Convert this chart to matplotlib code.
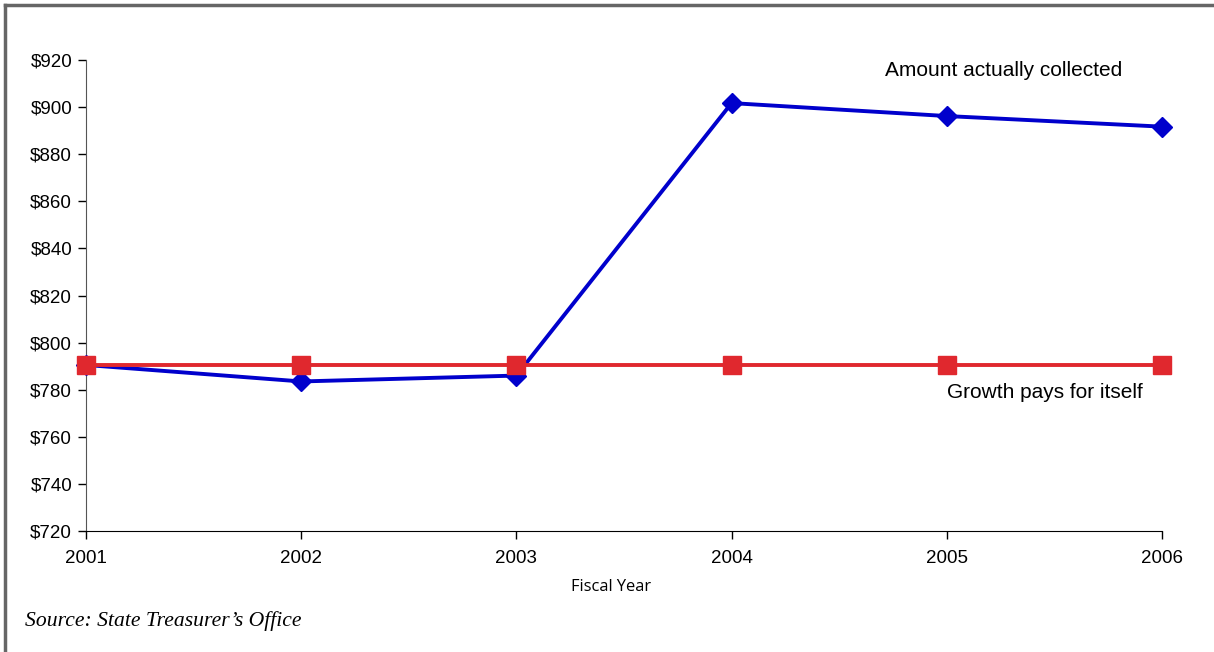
import matplotlib
matplotlib.use("Agg")
import matplotlib.pyplot as plt
from matplotlib.lines import Line2D

years = [2001, 2002, 2003, 2004, 2005, 2006]
collected = [790.5, 783.5, 786.0, 901.7, 896.2, 891.7]
growth = [790.5, 790.5, 790.5, 790.5, 790.5, 790.5]
yticks = [720, 740, 760, 780, 800, 820, 840, 860, 880, 900, 920]

W, H = 1214, 652
fig = plt.figure(figsize=(W / 100, H / 100), dpi=100)
fig.patch.set_facecolor("white")

ax = fig.add_axes([86 / W, 1 - 531 / H, (1162 - 86) / W, (531 - 60) / H])
x = list(range(len(years)))
ax.plot(x, collected, color="#0000CC", lw=2.8, marker="D", ms=10, zorder=3, clip_on=False)
ax.plot(x, growth, color="#E0282E", lw=2.8, marker="s", ms=12.5, zorder=4, clip_on=False)

ax.set_xlim(0, len(years) - 1)
ax.set_ylim(720, 920)
ax.set_xticks(x)
ax.set_xticklabels([str(y) for y in years])
ax.set_yticks(yticks)
ax.set_yticklabels([f"${v}" for v in yticks])
for s in ["top", "right"]:
    ax.spines[s].set_visible(False)
ax.spines["left"].set_color("#555555")
ax.spines["bottom"].set_color("black")
ax.tick_params(axis="both", direction="out", length=6, width=1, labelsize=13.5,
               labelfontfamily="Liberation Sans", pad=4)
ax.tick_params(axis="x", pad=8)

fig.text(611 / W, 1 - 587 / H, "Fiscal Year", fontsize=11.9, family="Open Sans",
         ha="center", va="center")

ax.text(4.266, 915.75, "Amount actually collected", fontsize=15, family="Liberation Sans",
        ha="center", va="center")
ax.text(4.456, 778.6, "Growth pays for itself", fontsize=15, family="Liberation Sans",
        ha="center", va="center")

fig.text(25 / W, 1 - 621 / H, "Source: State Treasurer\u2019s Office", fontsize=15.6,
         family="Liberation Serif", style="italic", ha="left", va="center")

# frame
fig.add_artist(Line2D([5 / W, 5 / W], [0, 1 - 5 / H], transform=fig.transFigure,
                      color="#666666", lw=2.5))
fig.add_artist(Line2D([5 / W, 1], [1 - 5 / H, 1 - 5 / H], transform=fig.transFigure,
                      color="#666666", lw=2.5))

fig.savefig("out.png", dpi=100)
